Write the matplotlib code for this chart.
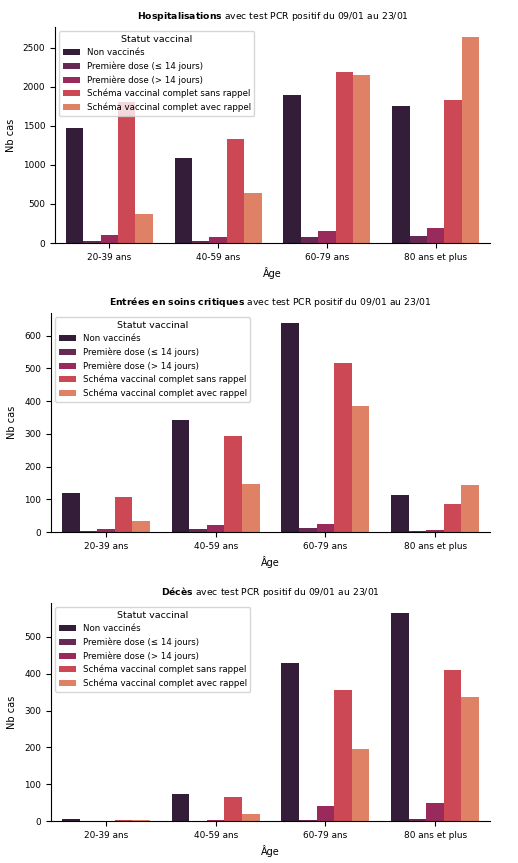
import numpy as np
import pandas as pd
import matplotlib
matplotlib.use("Agg")
import matplotlib.pyplot as plt
import seaborn as sns

ages = ["20-39 ans", "40-59 ans", "60-79 ans", "80 ans et plus"]
statuts = [
    "Non vaccinés",
    "Première dose (≤ 14 jours)",
    "Première dose (> 14 jours)",
    "Schéma vaccinal complet sans rappel",
    "Schéma vaccinal complet avec rappel",
]

# valeurs par statut, dans l'ordre des tranches d'âge
hosp = [
    [1472, 1087, 1900, 1750],
    [25, 30, 77, 86],
    [103, 81, 154, 188],
    [1801, 1331, 2191, 1827],
    [376, 638, 2157, 2636],
]
sc = [
    [118, 341, 637, 114],
    [4, 9, 12, 3],
    [8, 20, 23, 7],
    [106, 293, 516, 87],
    [34, 147, 385, 144],
]
dc = [
    [5, 74, 428, 564],
    [0, 1, 4, 6],
    [0, 4, 41, 50],
    [4, 65, 356, 410],
    [3, 19, 195, 337],
]

titres = ["Hospitalisations", "Entrées en soins critiques", "Décès"]
periode = " avec test PCR positif du 09/01 au 23/01"


def to_df(values):
    rows = []
    for s, vals in zip(statuts, values):
        for a, v in zip(ages, vals):
            rows.append({"Âge": a, "Statut vaccinal": s, "Nb cas": v})
    return pd.DataFrame(rows)


palette = sns.color_palette("rocket", 6)[:5]

W, H = 518, 863
# boites des axes en pixels : gauche, haut, droite, bas
boxes = [(55, 27, 490, 243), (51, 313, 490, 532), (51, 603, 490, 821)]

fig = plt.figure(figsize=(W / 100, H / 100), dpi=100)

for box, titre, values in zip(boxes, titres, [hosp, sc, dc]):
    l, t, r, b = box
    ax = fig.add_axes([l / W, 1 - b / H, (r - l) / W, (b - t) / H])
    df = to_df(values)
    sns.barplot(data=df, x="Âge", y="Nb cas", hue="Statut vaccinal",
                palette=palette, ax=ax)
    ax.set_title(r"$\bf{" + titre.replace(" ", r"\ ") + "}$" + periode, fontsize=6.7)
    ax.set_xlabel("Âge", fontsize=7)
    ax.set_ylabel("Nb cas", fontsize=7, labelpad=5)
    ax.tick_params(labelsize=6.4)
    ax.legend(title="Statut vaccinal", loc="upper left", fontsize=6.2, title_fontsize=6.8)
    sns.despine(ax=ax)

fig.savefig("out.png")
